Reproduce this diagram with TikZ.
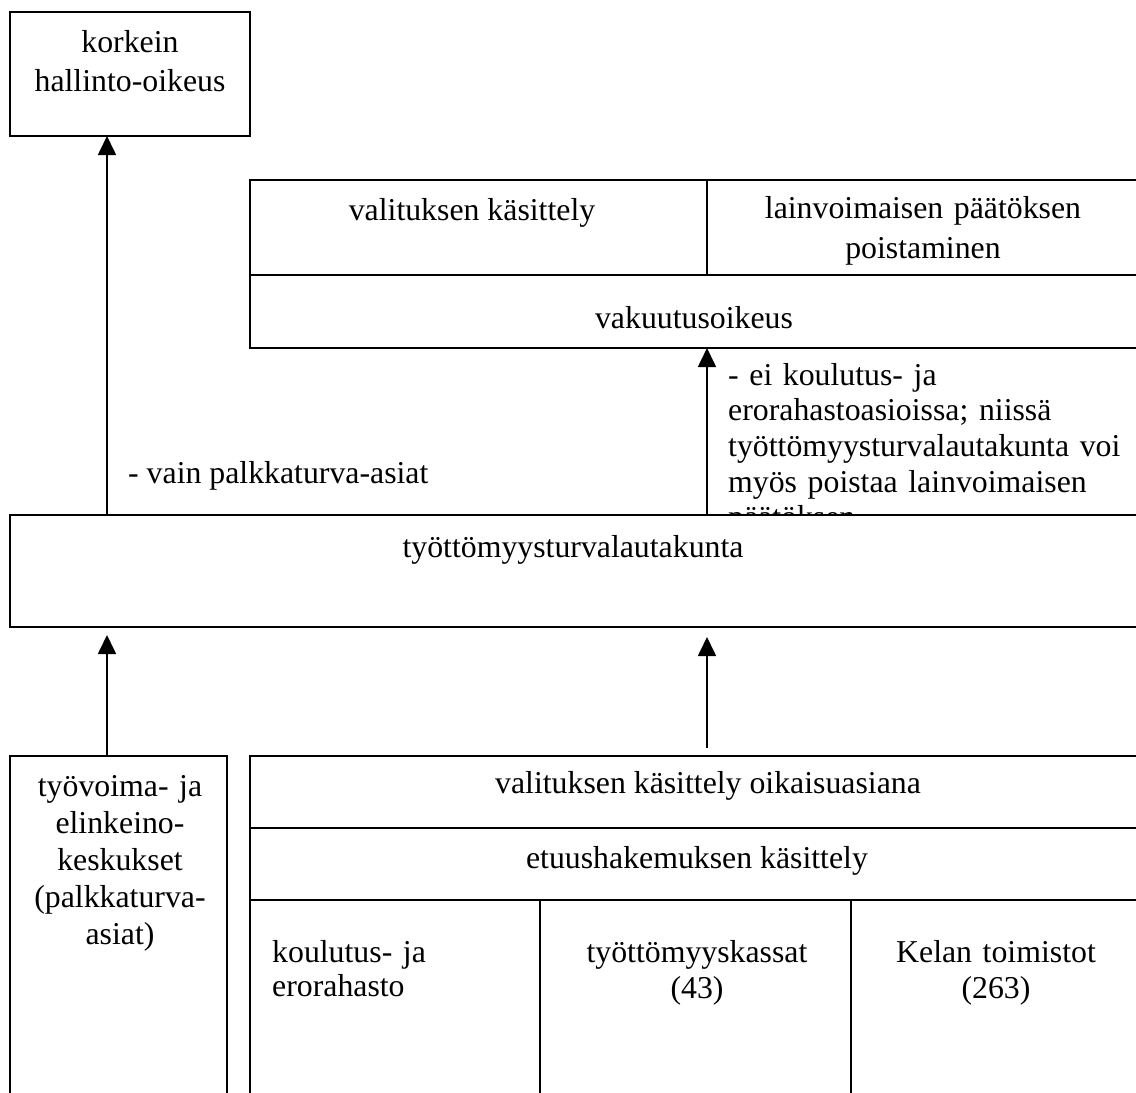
\documentclass[tikz,border=0pt]{standalone}
\usepackage{fontspec}
\setmainfont{Liberation Serif}
\usetikzlibrary{arrows.meta}
\newcommand\txt[1]{\fontsize{31.8}{#1}\selectfont}
\begin{document}
\begin{tikzpicture}[x=1pt,y=-1pt,
  frame/.style={draw,line width=1.7pt,inner sep=0pt,outer sep=0pt,fill=white},
  rule/.style={line width=1.7pt},
  arr/.style={line width=1.7pt,-{Triangle[length=19pt,width=18pt]}},
  lbl/.style={inner sep=0pt,anchor=base,font=\txt{37}},
  ctr/.style={lbl,align=center,text width=#1},
  ctr/.default=320pt]
\useasboundingbox (0,0) rectangle (1136,1093);
\clip (0,0) rectangle (1136,1093);

% top: supreme administrative court
\node[frame,minimum width=240pt,minimum height=124pt] (kho) at (130,74) {};
\node[ctr,font=\txt{39}] (khot) at (130,52) {korkein\\hallinto-oikeus};

% insurance court with its two tasks
\node[frame,minimum width=914pt,minimum height=168pt] (vak) at (707,264) {};
\coordinate (r1) at (0,275);
\coordinate (v1) at (707,180);
\draw[rule] (vak.west |- r1) -- (vak.east |- r1);
\draw[rule] (v1) -- (v1 |- r1);
\node[lbl] (vak1) at (472,220) {valituksen käsittely};
\begin{scope}
  \clip (707,180) rectangle (1081,275);
  \node[ctr,font=\txt{40}] (vak2) at (923,218) {lainvoimaisen päätöksen\\poistaminen};
\end{scope}
\node[lbl] (vakt) at (694,328) {vakuutusoikeus};

% notes on the appeal routes
\node[lbl,anchor=base west] (note1) at (128,483) {- vain palkkaturva-asiat};
\node[lbl,anchor=base west,align=left,text width=440pt,font=\txt{35.7}] (note2) at (728,385)
  {- ei koulutus- ja\\erorahastoasioissa; niissä\\työttömyysturvalautakunta voi\\myös poistaa lainvoimaisen\\päätöksen.};

% appeal routes upwards
\coordinate (ax) at (107,0);
\coordinate (top3) at (107,635);
\coordinate (bot4) at (707,748);
\coordinate (top4) at (707,637);
\coordinate (r2) at (0,828);
\coordinate (r3) at (0,900);
\coordinate (c1) at (540,900);
\coordinate (c2) at (851,900);

% unemployment security appeal board
\node[frame,minimum width=1140pt,minimum height=112pt] (ttl) at (580,571) {};
\node[lbl] (ttlt) at (573,557) {työttömyysturvalautakunta};

\draw[arr] (ax |- ttl.north) -- (ax |- kho.south);
\draw[arr] (vak.south |- ttl.north) -- (vak.south);

% first instance bodies
\node[frame,minimum width=217pt,minimum height=354pt] (tek) at (118.5,933) {};
\node[ctr,text width=210pt,font=\txt{37.2}] (tekt) at (120,796)
  {työvoima- ja\\elinkeino-\\keskukset\\(palkkaturva-\\asiat)};

\node[frame,minimum width=892pt,minimum height=354pt] (etu) at (696,933) {};
\draw[rule] (etu.west |- r2) -- (etu.east |- r2);
\draw[rule] (etu.west |- r3) -- (etu.east |- r3);
\draw[rule] (c1) -- (c1 |- etu.south);
\draw[rule] (c2) -- (c2 |- etu.south);
\node[lbl] (etu1) at (708,793) {valituksen käsittely oikaisuasiana};
\node[lbl] (etu2) at (697,868) {etuushakemuksen käsittely};
\node[lbl,anchor=base west,align=left,text width=260pt,font=\txt{34}] (krh) at (272,962) {koulutus- ja\\erorahasto};
\node[ctr,text width=300pt,font=\txt{36}] (tk) at (697,962) {työttömyyskassat\\(43)};
\node[ctr,text width=280pt,font=\txt{36}] (kela) at (996,962) {Kelan toimistot\\(263)};

\draw[arr] (ax |- tek.north) -- (top3);
\draw[arr] (bot4) -- (top4);
\end{tikzpicture}
\end{document}
